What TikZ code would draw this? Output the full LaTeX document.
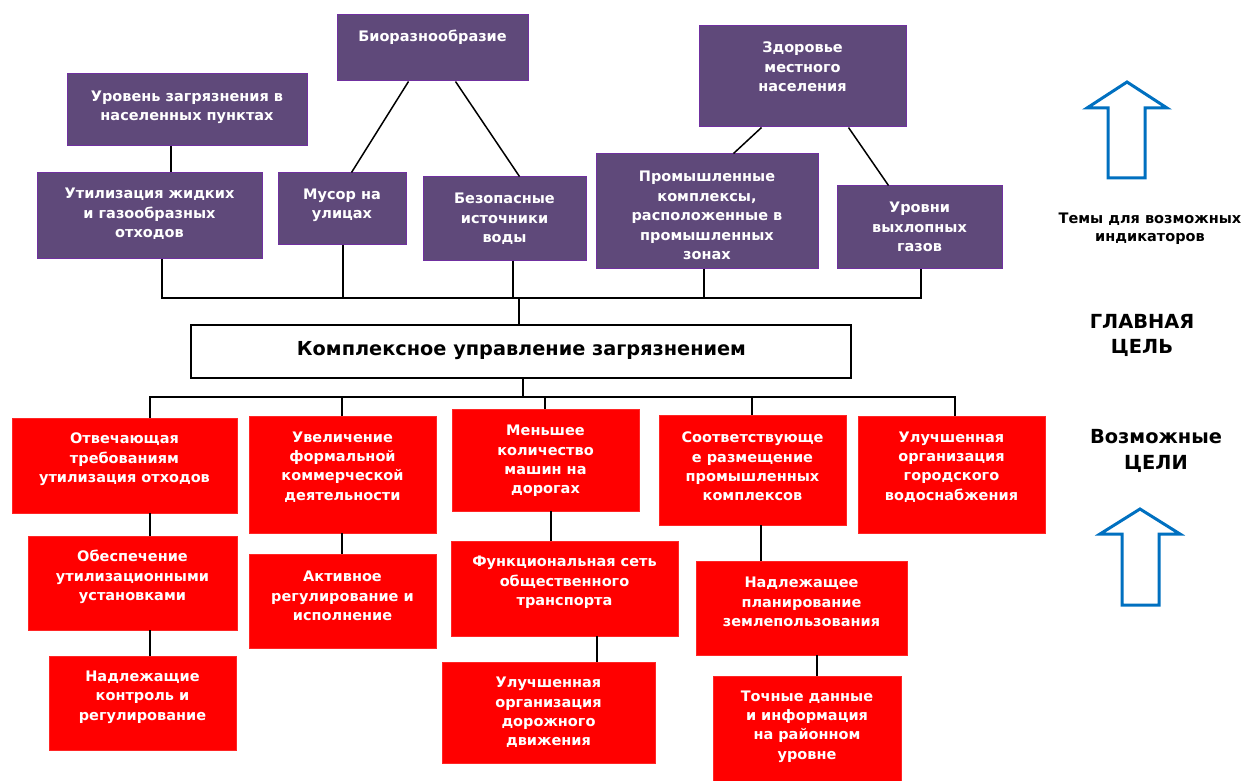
\documentclass[tikz,border=0pt]{standalone}
\usepackage{fontspec}
\setmainfont{DejaVu Sans}
\usetikzlibrary{calc}
\definecolor{purp}{RGB}{95,73,122}
\definecolor{purpedge}{RGB}{112,48,160}
\definecolor{redbox}{RGB}{255,0,0}
\definecolor{arrowblue}{RGB}{0,112,192}
\newcommand\mkbox[8]{%
  \node[#1, minimum width={(#5-#3)*1pt}, minimum height={(#6-#4)*1pt}] (#2) at ({(#3+#5)/2},{(#4+#6)/2}) {};
  \node[boxtext] (#2t) at ({(#3+#5)/2},#7) {#8};
}
\begin{document}
\begin{tikzpicture}[x=1pt,y=-1pt,
  pbox/.style={rectangle, fill=purp, draw=purpedge, line width=1pt, inner sep=0pt},
  rbox/.style={rectangle, fill=redbox, draw=red!85!white, line width=0.6pt, inner sep=0pt},
  tbox/.style={rectangle, fill=white, draw=black, line width=1.8pt, inner sep=0pt},
  boxtext/.style={align=center, inner sep=0pt, text=white, font=\bfseries\fontsize{14.5}{19.4}\selectfont},
  sidetext/.style={align=center, inner sep=0pt, text=black, font=\bfseries\fontsize{14.5}{18}\selectfont},
  bigside/.style={align=center, inner sep=0pt, text=black, font=\bfseries\fontsize{19.4}{25.5}\selectfont},
  conn/.style={draw=black, line width=1.9pt},
  diag/.style={draw=black, line width=1.5pt},
  hollow/.style={draw=arrowblue, line width=3pt, line join=miter, fill=white}]
\useasboundingbox (0,0) rectangle (1243,781);

% top purple boxes
\mkbox{pbox}{lvl}{67}{74}{307}{146}{107}{Уровень загрязнения в\\населенных пунктах}
\mkbox{pbox}{util}{37}{173}{262}{258}{214}{Утилизация жидких\\и газообразных\\отходов}
\mkbox{pbox}{musor}{278}{173}{406}{244}{205.5}{Мусор на\\улицах}
\mkbox{pbox}{bio}{337}{15}{528}{81}{37}{Биоразнообразие}
\mkbox{pbox}{water}{423}{177}{586}{260}{219}{Безопасные\\источники\\воды}
\mkbox{pbox}{health}{699}{26}{906}{127}{67}{Здоровье\\местного\\населения}
\mkbox{pbox}{prom}{596}{154}{818}{268}{215.5}{Промышленные\\комплексы,\\расположенные в\\промышленных\\зонах}
\mkbox{pbox}{exh}{837}{186}{1002}{268}{227}{Уровни\\выхлопных\\газов}

% main goal
\node[tbox, minimum width=660pt, minimum height=53pt] (goal) at (521,351.5) {};
\node[inner sep=0pt, font=\bfseries\fontsize{19.3}{22}\selectfont] (goalt) at (521.5,351) {Комплексное управление загрязнением};

% bottom red boxes
\mkbox{rbox}{g1}{12}{418}{237}{513}{459.5}{Отвечающая\\требованиям\\утилизация отходов}
\mkbox{rbox}{g1a}{28}{536}{237}{630}{577}{Обеспечение\\утилизационными\\установками}
\mkbox{rbox}{g1b}{49}{656}{236}{750}{697}{Надлежащие\\контроль и\\регулирование}
\mkbox{rbox}{g2}{249}{416}{436}{533}{467}{Увеличение\\формальной\\коммерческой\\деятельности}
\mkbox{rbox}{g2a}{249}{554}{436}{648}{596}{Активное\\регулирование и\\исполнение}
\mkbox{rbox}{g3}{452}{409}{639}{511}{461}{Меньшее\\количество\\машин на\\дорогах}
\mkbox{rbox}{g3a}{451}{541}{678}{636}{582.5}{Функциональная сеть\\общественного\\транспорта}
\mkbox{rbox}{g3b}{442}{662}{655}{763}{712.5}{Улучшенная\\организация\\дорожного\\движения}
\mkbox{rbox}{g4}{659}{415}{846}{525}{466.5}{Соответствующе\\е размещение\\промышленных\\комплексов}
\mkbox{rbox}{g4a}{696}{561}{907}{655}{602}{Надлежащее\\планирование\\землепользования}
\mkbox{rbox}{g4b}{713}{676}{901}{781}{726.5}{Точные данные\\и информация\\на районном\\уровне}
\mkbox{rbox}{g5}{858}{416}{1045}{533}{467}{Улучшенная\\организация\\городского\\водоснабжения}

% bus coordinates
\coordinate (tbusL) at (162,298);
\coordinate (tbusR) at (921,298);
\coordinate (bbusL) at (150,397);
\coordinate (bbusR) at (955,397);
\coordinate (xa) at (171,0);
\coordinate (xm) at (343,0);
\coordinate (xw) at (513,0);
\coordinate (xp) at (704,0);
\coordinate (xg) at (519,0);
\coordinate (xgb) at (523,0);
\coordinate (x2) at (342,0);
\coordinate (x3) at (545,0);
\coordinate (x3a) at (551,0);
\coordinate (x3b) at (597,0);
\coordinate (x4) at (752,0);
\coordinate (x4a) at (761,0);
\coordinate (x4b) at (817,0);

% top connectors
\draw[conn] (xa |- lvl.south) -- (xa |- util.north);
\draw[conn] (tbusL |- util.south) -- (tbusL) -- (tbusR) -- (tbusR |- exh.south);
\draw[conn] (xm |- musor.south) -- (xm |- tbusL);
\draw[conn] (xw |- water.south) -- (xw |- tbusL);
\draw[conn] (xp |- prom.south) -- (xp |- tbusL);
\draw[conn] (xg |- tbusL) -- (xg |- goal.north);
\draw[diag] ($(musor.north west)+(74,0)$) -- ($(bio.south west)+(72,0)$);
\draw[diag] ($(bio.south west)+(119,0)$) -- ($(water.north west)+(97,0)$);
\draw[diag] ($(health.south west)+(63,0)$) -- ($(prom.north west)+(138,0)$);
\draw[diag] ($(health.south west)+(150,0)$) -- ($(exh.north west)+(52,0)$);

% bottom connectors
\draw[conn] (xgb |- goal.south) -- (xgb |- bbusL);
\draw[conn] (bbusL |- g1.north) -- (bbusL) -- (bbusR) -- (bbusR |- g5.north);
\draw[conn] (bbusL |- g1.south) -- (bbusL |- g1a.north);
\draw[conn] (bbusL |- g1a.south) -- (bbusL |- g1b.north);
\draw[conn] (x2 |- bbusL) -- (x2 |- g2.north);
\draw[conn] (x2 |- g2.south) -- (x2 |- g2a.north);
\draw[conn] (x3 |- bbusL) -- (x3 |- g3.north);
\draw[conn] (x3a |- g3.south) -- (x3a |- g3a.north);
\draw[conn] (x3b |- g3a.south) -- (x3b |- g3b.north);
\draw[conn] (x4 |- bbusL) -- (x4 |- g4.north);
\draw[conn] (x4a |- g4.south) -- (x4a |- g4a.north);
\draw[conn] (x4b |- g4a.south) -- (x4b |- g4b.north);

% side labels and arrows
\draw[hollow] (1127,82) -- (1167,108) -- (1145,108) -- (1145,178) -- (1108,178) -- (1108,108) -- (1087,108) -- cycle;
\node[sidetext] (themes) at (1150,229) {Темы для возможных\\индикаторов};
\node[bigside] (maingoal) at (1142,335.5) {ГЛАВНАЯ\\ЦЕЛЬ};
\node[bigside] (possgoal) at (1156,451) {Возможные\\ЦЕЛИ};
\draw[hollow] (1140,509) -- (1180,534) -- (1159,534) -- (1159,605) -- (1122,605) -- (1122,534) -- (1100,534) -- cycle;
\end{tikzpicture}
\end{document}
